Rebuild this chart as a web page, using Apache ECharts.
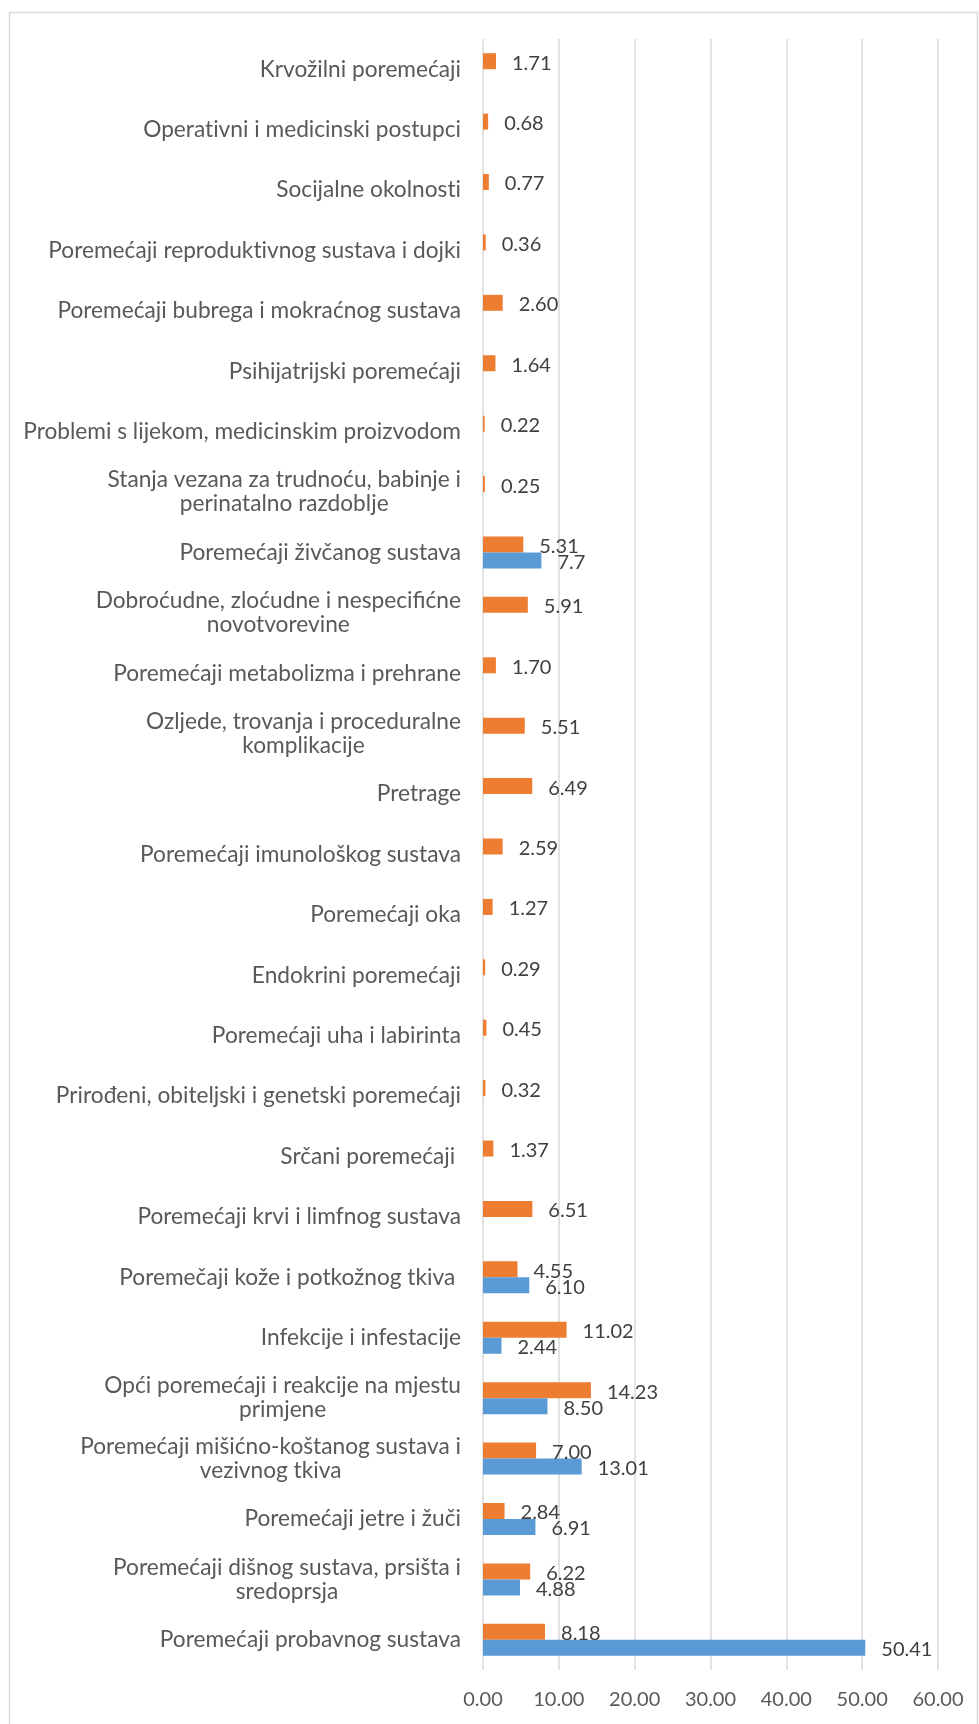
<!DOCTYPE html>
<html>
<head>
<meta charset="utf-8">
<script src="https://cdn.jsdelivr.net/npm/echarts@6/dist/echarts.min.js"></script>
<style>
  html, body { margin: 0; padding: 0; background: #fff; }
  #chart { width: 979px; height: 1724px; }
</style>
</head>
<body>
<div id="chart"></div>
<script>
// kategorije, od vrha prema dnu
const categories = [
  'Krvožilni poremećaji',
  'Operativni i medicinski postupci',
  'Socijalne okolnosti',
  'Poremećaji reproduktivnog sustava i dojki',
  'Poremećaji bubrega i mokraćnog sustava',
  'Psihijatrijski poremećaji',
  'Problemi s lijekom, medicinskim proizvodom',
  'Stanja vezana za trudnoću, babinje i\nperinatalno razdoblje',
  'Poremećaji živčanog sustava',
  'Dobroćudne, zloćudne i nespecifićne\nnovotvorevine',
  'Poremećaji metabolizma i prehrane',
  'Ozljede, trovanja i proceduralne\nkomplikacije',
  'Pretrage',
  'Poremećaji imunološkog sustava',
  'Poremećaji oka',
  'Endokrini poremećaji',
  'Poremećaji uha i labirinta',
  'Prirođeni, obiteljski i genetski poremećaji',
  'Srčani poremećaji ',
  'Poremećaji krvi i limfnog sustava',
  'Poremečaji kože i potkožnog tkiva ',
  'Infekcije i infestacije',
  'Opći poremećaji i reakcije na mjestu\nprimjene',
  'Poremećaji mišićno-koštanog sustava i\nvezivnog tkiva',
  'Poremećaji jetre i žuči',
  'Poremećaji dišnog sustava, prsišta i\nsredoprsja',
  'Poremećaji probavnog sustava'
]

// narančasta serija
const orangeValues = [
  1.71, 0.68, 0.77, 0.36, 2.60, 1.64, 0.22, 0.25, 5.31, 5.91,
  1.70, 5.51, 6.49, 2.59, 1.27, 0.29, 0.45, 0.32, 1.37, 6.51,
  4.55, 11.02, 14.23, 7.00, 2.84, 6.22, 8.18
]

// plava serija
const blueValues = [
  null, null, null, null, null, null, null, null, 7.7, null,
  null, null, null, null, null, null, null, null, null, null,
  6.10, 2.44, 8.50, 13.01, 6.91, 4.88, 50.41
]

// oznake koje nisu s dvije decimale
const blueLabelOverrides = { 8: '7.7' }

const xTicks = [0, 10, 20, 30, 40, 50, 60]

const chart = echarts.init(document.getElementById('chart'))

const labelFont = {
  fontFamily: 'Lato',
  fontSize: 20,
  color: '#404040'
}

// Lato spaja "ti" u ligaturu, razdvoji ih nevidljivim znakom
const noLig = (s) => s.replace(/t(?=i)/g, 't\u200c')

const option = {
  animation: false,
  backgroundColor: '#fff',
  graphic: [{
    type: 'rect',
    left: 7,
    top: 10,
    shape: { width: 968, height: 1740 },
    style: { fill: 'none', stroke: '#d9d9d9', lineWidth: 1.5 },
    silent: true
  }],
  grid: {
    left: 483,
    right: 41,
    top: 39,
    bottom: 54
  },
  xAxis: {
    type: 'value',
    min: xTicks[0],
    max: xTicks[xTicks.length - 1],
    interval: 10,
    axisLine: { show: false },
    axisTick: { show: false },
    splitLine: { lineStyle: { color: '#d9d9d9', width: 1.5 } },
    axisLabel: {
      margin: 20,
      fontFamily: 'Lato',
      fontSize: 20,
      color: '#595959',
      formatter: (v) => v.toFixed(2)
    }
  },
  yAxis: {
    type: 'category',
    inverse: true,
    data: categories,
    axisLine: { show: false },
    axisTick: { show: false },
    axisLabel: {
      margin: 22,
      fontFamily: 'Lato',
      fontSize: 22.7,
      lineHeight: 24,
      color: '#595959',
      formatter: (v) => v.split('\n').map(l => '{c|' + noLig(l) + '}').join('\n'),
      rich: {
        c: { align: 'center', fontFamily: 'Lato', fontSize: 22.7, lineHeight: 24, color: '#595959' }
      }
    }
  },
  series: [
    {
      name: 'orange',
      type: 'bar',
      data: orangeValues,
      barWidth: 16,
      barGap: '0%',
      itemStyle: { color: '#ed7d31' },
      label: {
        show: true,
        position: 'right',
        distance: 16,
        offset: [0, 2],
        ...labelFont,
        formatter: (p) => p.value.toFixed(2)
      }
    },
    {
      name: 'blue',
      type: 'bar',
      data: blueValues,
      barWidth: 16,
      barGap: '0%',
      itemStyle: { color: '#5b9bd5' },
      label: {
        show: true,
        position: 'right',
        distance: 16,
        offset: [0, 2],
        ...labelFont,
        formatter: (p) => blueLabelOverrides[p.dataIndex] || p.value.toFixed(2)
      }
    }
  ]
}

chart.setOption(option)
</script>
</body>
</html>
